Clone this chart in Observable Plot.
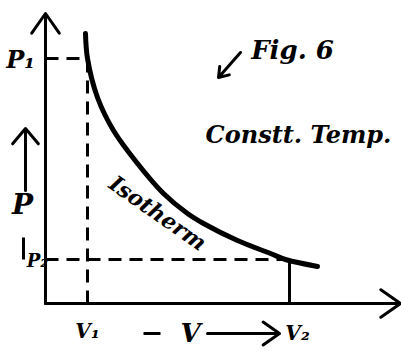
<!DOCTYPE html>
<html><head><meta charset="utf-8">
<script src="https://cdn.jsdelivr.net/npm/d3@7"></script>
<script src="https://cdn.jsdelivr.net/npm/@observablehq/plot@0.6"></script>
<style>body{margin:0;background:#fff}</style>
</head><body><div id="chart"></div>
<script>
// Isotherm (volume, pressure in drawing units)
const volume   = [40, 42, 52, 68, 92, 118, 142, 158, 192, 225, 240, 272];
const pressure = [270, 245, 206, 173, 140, 110, 90, 80, 63, 50, 44, 37];
const V1 = 42, V2 = 244, P1 = 245, P2 = 44;
const vMax = 355, pMax = 290;

const curve = volume.map((v, i) => ({v, p: pressure[i]}));

const axes = [
  {x1: 0, y1: 0, x2: 0, y2: pMax},
  {x1: 0, y1: 0, x2: vMax, y2: 0}
];
const dashed = [
  {x1: 0, y1: P1, x2: V1, y2: P1},
  {x1: V1, y1: 0, x2: V1, y2: P1},
  {x1: 0, y1: P2, x2: V2, y2: P2}
];
const solid = [{x1: V2, y1: 0, x2: V2, y2: P2}];

const labelText = ["P₁", "P", "P₂", "V₁", "V₂", "V", "Fig. 6", "Constt. Temp."];
const labelV    = [-25, -23, -8, 42, 252, 145, 247, 253];
const labelP    = [243, 98, 42, -28, -30, -30, 253, 168];
const labelSize = [24, 28, 18, 20, 20, 26, 26, 24];
const labels = labelText.map((t, i) => ({t, v: labelV[i], p: labelP[i], s: labelSize[i]}));

const pArrow = [{x1: -20, y1: 113, x2: -20, y2: 175}];
const pTail  = [{x1: -22, y1: 44, x2: -22, y2: 66}];
const vArrow = [{x1: 162, y1: -30, x2: 234, y2: -30}];
const vDash  = [{x1: 98, y1: -30, x2: 115, y2: -30}];
const figArrow = [{x1: 195, y1: 251, x2: 173, y2: 226}];

const font = "DejaVu Serif";
const chart = Plot.plot({
  width: 401, height: 353,
  marginLeft: 45, marginRight: 0, marginTop: 13, marginBottom: 50,
  x: {domain: [0, 356], axis: null},
  y: {domain: [0, 290], axis: null},
  style: {background: "#fff", color: "#000"},
  marks: [
    Plot.link(dashed, {x1: "x1", y1: "y1", x2: "x2", y2: "y2", stroke: "#000", strokeWidth: 3, strokeDasharray: "13,8"}),
    Plot.link(solid, {x1: "x1", y1: "y1", x2: "x2", y2: "y2", stroke: "#000", strokeWidth: 3}),
    Plot.arrow(axes, {x1: "x1", y1: "y1", x2: "x2", y2: "y2", stroke: "#000", strokeWidth: 3, headLength: 12, headAngle: 70}),
    Plot.line(curve, {x: "v", y: "p", stroke: "#000", strokeWidth: 5, curve: "catmull-rom", strokeLinecap: "round"}),
    Plot.arrow(pArrow, {x1: "x1", y1: "y1", x2: "x2", y2: "y2", stroke: "#000", strokeWidth: 3, headLength: 10, headAngle: 80}),
    Plot.link(pTail, {x1: "x1", y1: "y1", x2: "x2", y2: "y2", stroke: "#000", strokeWidth: 3}),
    Plot.arrow(vArrow, {x1: "x1", y1: "y1", x2: "x2", y2: "y2", stroke: "#000", strokeWidth: 3, headLength: 10, headAngle: 70}),
    Plot.link(vDash, {x1: "x1", y1: "y1", x2: "x2", y2: "y2", stroke: "#000", strokeWidth: 3}),
    Plot.arrow(figArrow, {x1: "x1", y1: "y1", x2: "x2", y2: "y2", stroke: "#000", strokeWidth: 3, headLength: 9, headAngle: 70}),
    Plot.text(labels, {x: "v", y: "p", text: "t", fontSize: d => d.s, fill: "#000", fontFamily: font, fontStyle: "italic", fontWeight: "bold"}),
    Plot.text(["Isotherm"], {x: 112, y: 90, text: d => d, rotate: 35, fontSize: 22, fill: "#000", fontFamily: font, fontStyle: "italic", fontWeight: "bold"})
  ]
});
document.getElementById("chart").append(chart);
</script>
</body></html>
